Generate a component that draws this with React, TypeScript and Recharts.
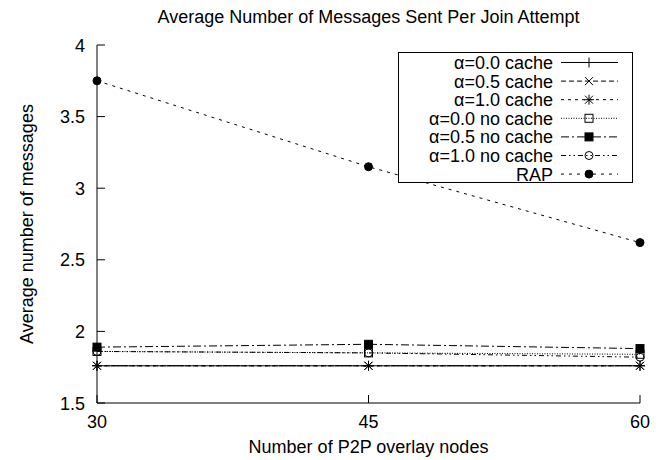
import * as React from 'react';
import { Legend, Line, LineChart, XAxis, YAxis } from 'recharts';

const nodes = [30, 45, 60];
const xTicks = [30, 45, 60];
const yTicks = [1.5, 2, 2.5, 3, 3.5, 4];

const cacheA00 = [1.76, 1.76, 1.76];
const cacheA05 = [1.76, 1.76, 1.76];
const cacheA10 = [1.76, 1.76, 1.76];
const noCacheA00 = [1.86, 1.85, 1.84];
const noCacheA05 = [1.89, 1.91, 1.88];
const noCacheA10 = [1.86, 1.85, 1.82];
const rap = [3.75, 3.15, 2.62];

const FONT = '"Liberation Sans", Arial, Helvetica, sans-serif';
const FS = 18;

type Shape = 'plus' | 'cross' | 'star' | 'box' | 'fbox' | 'circle' | 'fcircle';

interface SeriesDef {
  key: string;
  name: string;
  dash?: string;
  shape: Shape;
}

const series: SeriesDef[] = [
  { key: 'a00c', name: 'α=0.0 cache', shape: 'plus' },
  { key: 'a05c', name: 'α=0.5 cache', dash: '5 3', shape: 'cross' },
  { key: 'a10c', name: 'α=1.0 cache', dash: '3 4', shape: 'star' },
  { key: 'a00n', name: 'α=0.0 no cache', dash: '1 1.5', shape: 'box' },
  { key: 'a05n', name: 'α=0.5 no cache', dash: '8 3 2 3', shape: 'fbox' },
  { key: 'a10n', name: 'α=1.0 no cache', dash: '5 3 1.5 3 1.5 3', shape: 'circle' },
  { key: 'rap', name: 'RAP', dash: '3 5', shape: 'fcircle' },
];

const rows = nodes.map((n, i) => ({
  nodes: n,
  a00c: cacheA00[i],
  a05c: cacheA05[i],
  a10c: cacheA10[i],
  a00n: noCacheA00[i],
  a05n: noCacheA05[i],
  a10n: noCacheA10[i],
  rap: rap[i],
}));

function marker(shape: Shape, cx: number, cy: number, key?: React.Key) {
  const s = 4;
  switch (shape) {
    case 'plus':
      return <path key={key} d={`M${cx - s - 1},${cy}H${cx + s + 1}M${cx},${cy - s - 1}V${cy + s + 1}`} stroke="#000" fill="none" />;
    case 'cross':
      return <path key={key} d={`M${cx - s},${cy - s}L${cx + s},${cy + s}M${cx - s},${cy + s}L${cx + s},${cy - s}`} stroke="#000" fill="none" />;
    case 'star':
      return (
        <path
          key={key}
          d={`M${cx - s},${cy - s}L${cx + s},${cy + s}M${cx - s},${cy + s}L${cx + s},${cy - s}M${cx - s - 1},${cy}H${cx + s + 1}M${cx},${cy - s - 1}V${cy + s + 1}`}
          stroke="#000"
          fill="none"
        />
      );
    case 'box':
      return <rect key={key} x={cx - s} y={cy - s} width={2 * s} height={2 * s} stroke="#000" fill="none" />;
    case 'fbox':
      return <rect key={key} x={cx - s} y={cy - s} width={2 * s} height={2 * s} stroke="#000" fill="#000" />;
    case 'circle':
      return <circle key={key} cx={cx} cy={cy} r={s} stroke="#000" fill="none" />;
    default:
      return <circle key={key} cx={cx} cy={cy} r={s} stroke="#000" fill="#000" />;
  }
}

const BottomTick = (props: any) => {
  const { x, y, payload } = props;
  return (
    <g>
      <line x1={x} y1={y} x2={x} y2={y - 8} stroke="#000" />
      <text x={x} y={y + 25} textAnchor="middle" fontSize={FS} fontFamily={FONT} fill="#000">
        {payload.value}
      </text>
    </g>
  );
};

const TopTick = (props: any) => {
  const { x, y } = props;
  return <line x1={x} y1={y} x2={x} y2={y + 8} stroke="#000" />;
};

const LeftTick = (props: any) => {
  const { x, y, payload } = props;
  return (
    <g>
      <line x1={x} y1={y} x2={x + 8} y2={y} stroke="#000" />
      <text x={x - 12} y={y + 6.5} textAnchor="end" fontSize={FS} fontFamily={FONT} fill="#000">
        {payload.value}
      </text>
    </g>
  );
};

const RightTick = (props: any) => {
  const { x, y } = props;
  return <line x1={x} y1={y} x2={x - 8} y2={y} stroke="#000" />;
};

function LegendBox() {
  const rowH = 18.6;
  return (
    <div style={{ width: 235, height: 131, border: '1px solid #000', background: '#fff', boxSizing: 'border-box' }}>
      <svg width={233} height={129} style={{ display: 'block', overflow: 'visible' }}>
        {series.map((s, i) => {
          const y = 9.5 + i * rowH;
          return (
            <g key={s.key}>
              <text x={154} y={y + 6.5} textAnchor="end" fontSize={FS} fontFamily={FONT} fill="#000">
                {s.name}
              </text>
              <line x1={162} x2={219} y1={y} y2={y} stroke="#000" strokeDasharray={s.dash} />
              {marker(s.shape, 190, y)}
            </g>
          );
        })}
      </svg>
    </div>
  );
}

export default function App() {
  return (
    <div style={{ position: 'absolute', left: 0, top: 0, width: 665, height: 460, background: '#fff' }}>
      <div
        style={{
          position: 'absolute',
          left: 97,
          top: 8,
          width: 543,
          textAlign: 'center',
          fontFamily: FONT,
          fontSize: FS,
          lineHeight: '18px',
          color: '#000',
          whiteSpace: 'nowrap',
          zIndex: 1,
        }}
      >
        Average Number of Messages Sent Per Join Attempt
      </div>
      <LineChart width={665} height={460} data={rows} margin={{ top: 45, right: 25, left: 0, bottom: 0 }}>
        <XAxis
          xAxisId="b"
          dataKey="nodes"
          type="number"
          domain={[30, 60]}
          ticks={xTicks}
          height={57}
          tickSize={0}
          tickMargin={0}
          tickLine={false}
          axisLine={{ stroke: '#000' }}
          tick={<BottomTick />}
          label={{
            content: ({ viewBox }: any) => (
              <text x={viewBox.x + viewBox.width / 2} y={453} textAnchor="middle" fontSize={FS} fontFamily={FONT} fill="#000">
                Number of P2P overlay nodes
              </text>
            ),
          }}
        />
        <XAxis
          xAxisId="t"
          orientation="top"
          dataKey="nodes"
          type="number"
          domain={[30, 60]}
          ticks={xTicks}
          height={0}
          tickSize={0}
          tickMargin={0}
          tickLine={false}
          axisLine={{ stroke: '#000' }}
          tick={<TopTick />}
        />
        <YAxis
          yAxisId="l"
          type="number"
          domain={[1.5, 4]}
          ticks={yTicks}
          width={97}
          tickSize={0}
          tickMargin={0}
          tickLine={false}
          axisLine={{ stroke: '#000' }}
          tick={<LeftTick />}
          label={{
            content: ({ viewBox }: any) => {
              const cy = viewBox.y + viewBox.height / 2;
              return (
                <text x={27} y={cy} dy={6} transform={`rotate(-90 27 ${cy})`} textAnchor="middle" fontSize={FS} fontFamily={FONT} fill="#000">
                  Average number of messages
                </text>
              );
            },
          }}
        />
        <YAxis
          yAxisId="r"
          orientation="right"
          type="number"
          domain={[1.5, 4]}
          ticks={yTicks}
          width={0}
          tickSize={0}
          tickMargin={0}
          tickLine={false}
          axisLine={{ stroke: '#000' }}
          tick={<RightTick />}
        />
        {series.map((s) => (
          <Line
            key={s.key}
            xAxisId="b"
            yAxisId="l"
            dataKey={s.key}
            name={s.name}
            type="linear"
            stroke="#000"
            strokeWidth={1}
            strokeDasharray={s.dash}
            isAnimationActive={false}
            dot={(p: any) => marker(s.shape, p.cx, p.cy, `${s.key}-${p.index}`)}
            activeDot={false}
          />
        ))}
        <Legend
          layout="vertical"
          align="center"
          verticalAlign="middle"
          content={() => <LegendBox />}
          wrapperStyle={{ position: 'absolute', left: 398, top: 52, width: 235, height: 131 }}
        />
      </LineChart>
    </div>
  );
}
